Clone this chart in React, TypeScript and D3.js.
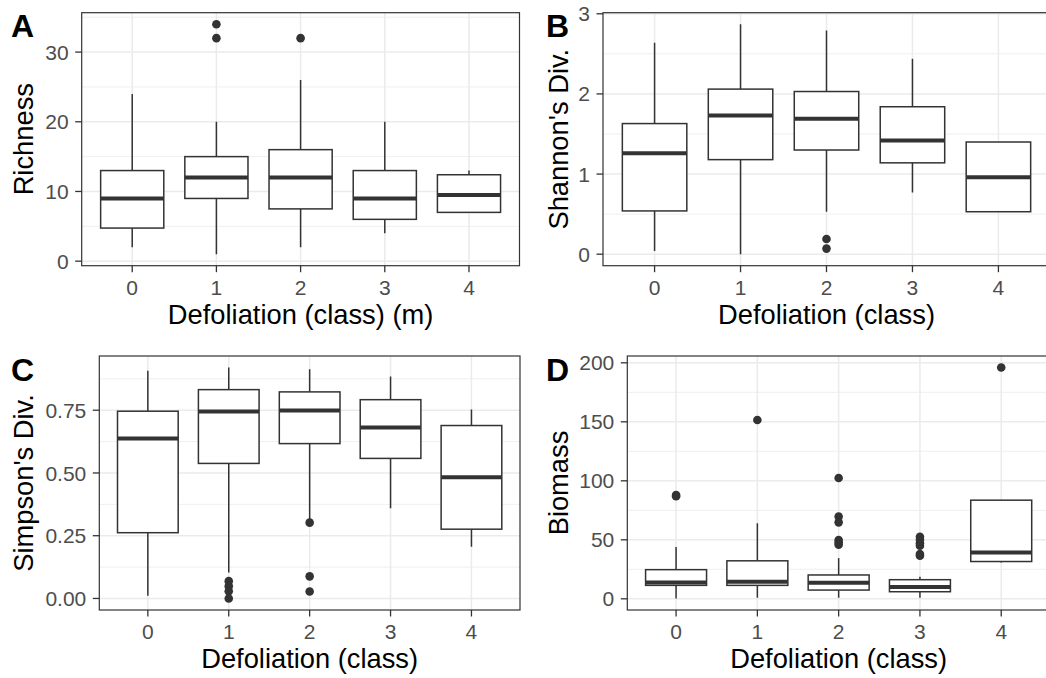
import React from "react";
import * as d3 from "d3";

// ---------- DATA ----------
const categories = ["0", "1", "2", "3", "4"];

// [lower whisker, Q1, median, Q3, upper whisker]
const richnessStats: number[][] = [
  [2, 4.75, 9, 13, 24],
  [1, 9, 12, 15, 20],
  [2, 7.5, 12, 16, 26],
  [4, 6, 9, 13, 20],
  [7, 7, 9.5, 12.4, 13],
];
const richnessOutliers: number[][] = [[], [34, 32], [32], [], []];
const richnessTicks = [0, 10, 20, 30];
const richnessTickLabels = ["0", "10", "20", "30"];

const shannonStats: number[][] = [
  [0.04, 0.54, 1.26, 1.63, 2.64],
  [0.0, 1.18, 1.73, 2.06, 2.87],
  [0.53, 1.3, 1.69, 2.03, 2.79],
  [0.77, 1.14, 1.42, 1.84, 2.44],
  [0.53, 0.53, 0.96, 1.4, 1.4],
];
const shannonOutliers: number[][] = [[], [], [0.19, 0.07], [], []];
const shannonTicks = [0, 1, 2, 3];
const shannonTickLabels = ["0", "1", "2", "3"];

const simpsonStats: number[][] = [
  [0.011, 0.262, 0.637, 0.746, 0.907],
  [0.103, 0.538, 0.745, 0.832, 0.92],
  [0.312, 0.617, 0.749, 0.823, 0.913],
  [0.359, 0.558, 0.681, 0.792, 0.884],
  [0.206, 0.276, 0.483, 0.689, 0.753],
];
const simpsonOutliers: number[][] = [
  [],
  [0.069, 0.049, 0.029, 0.0],
  [0.302, 0.088, 0.028],
  [],
  [],
];
const simpsonTicks = [0, 0.25, 0.5, 0.75];
const simpsonTickLabels = ["0.00", "0.25", "0.50", "0.75"];

const biomassStats: number[][] = [
  [0.3, 11.4, 13.8, 24.7, 44],
  [0.9, 11.4, 14.4, 32.2, 64],
  [0.9, 7.4, 13.7, 20.2, 34.5],
  [0.9, 6, 10, 16.2, 18.8],
  [30.7, 31.6, 39.3, 83.6, 83.6],
];
const biomassOutliers: number[][] = [
  [88, 87],
  [151.6],
  [102.4, 69.7, 64.8, 49.8, 47.8, 45.8],
  [52.6, 50, 47, 45, 37.9, 36.5],
  [196],
];
const biomassTicks = [0, 50, 100, 150, 200];
const biomassTickLabels = ["0", "50", "100", "150", "200"];

const xTitles = [
  "Defoliation (class) (m)",
  "Defoliation (class)",
  "Defoliation (class)",
  "Defoliation (class)",
];
const yTitles = ["Richness", "Shannon's Div.", "Simpson's Div.", "Biomass"];
const tags = ["A", "B", "C", "D"];

// ---------- LAYOUT ----------
const FONT = "'Liberation Sans', Arial, Helvetica, sans-serif";
const DARK = "#333333";
const GRID = "#ebebeb";

type PanelLayout = {
  x0: number;
  x1: number;
  y0: number;
  y1: number;
  tagX: number;
  tagY: number;
  yTitleX: number;
};

const layouts: PanelLayout[] = [
  { x0: 81.7, x1: 519.5, y0: 12.7, y1: 265.7, tagX: 11, tagY: 36.5, yTitleX: 32.5 },
  { x0: 603, x1: 1050, y0: 12.7, y1: 265.7, tagX: 546, tagY: 36.5, yTitleX: 567.5 },
  { x0: 99.3, x1: 520, y0: 356, y1: 610, tagX: 11, tagY: 380.5, yTitleX: 32.5 },
  { x0: 627.3, x1: 1050, y0: 356, y1: 610, tagX: 546, tagY: 380.5, yTitleX: 567.5 },
];

type PanelProps = {
  layout: PanelLayout;
  stats: number[][];
  outliers: number[][];
  ticks: number[];
  tickLabels: string[];
  xTitle: string;
  yTitle: string;
  tag: string;
  clipId: string;
};

function Panel({ layout, stats, outliers, ticks, tickLabels, xTitle, yTitle, tag, clipId }: PanelProps) {
  const { x0, x1, y0, y1 } = layout;
  const all = [...stats.flat(), ...outliers.flat()];
  const lo = d3.min(all) as number;
  const hi = d3.max(all) as number;
  const pad = (hi - lo) * 0.05;
  const y = d3.scaleLinear().domain([lo - pad, hi + pad]).range([y1, y0]);
  const x = d3
    .scaleBand<string>()
    .domain(categories)
    .range([x0, x1])
    .paddingInner(0)
    .paddingOuter(0.1);
  const step = x.step();
  const cx = (c: string) => (x(c) as number) + x.bandwidth() / 2;
  const boxW = step * 0.75;

  const tickStep = ticks[1] - ticks[0];
  const minor: number[] = [];
  for (let i = -1; i < ticks.length; i++) {
    const v = ticks[0] + tickStep * (i + 0.5);
    if (v > y.domain()[0] && v < y.domain()[1]) minor.push(v);
  }

  const midX = (x0 + x1) / 2;
  const midY = (y0 + y1) / 2;

  return (
    <g>
      <defs>
        <clipPath id={clipId}>
          <rect x={x0} y={y0} width={x1 - x0} height={y1 - y0} />
        </clipPath>
      </defs>
      <rect x={x0} y={y0} width={x1 - x0} height={y1 - y0} fill="white" />
      <g clipPath={`url(#${clipId})`}>
        {minor.map((v) => (
          <line key={"mn" + v} x1={x0} x2={x1} y1={y(v)} y2={y(v)} stroke={GRID} strokeWidth={0.8} />
        ))}
        {ticks.map((v) => (
          <line key={"mj" + v} x1={x0} x2={x1} y1={y(v)} y2={y(v)} stroke={GRID} strokeWidth={1.5} />
        ))}
        {categories.map((c) => (
          <line key={"vx" + c} x1={cx(c)} x2={cx(c)} y1={y0} y2={y1} stroke={GRID} strokeWidth={1.5} />
        ))}
        {categories.map((c, i) => {
          const [wl, q1, med, q3, wh] = stats[i];
          const xc = cx(c);
          return (
            <g key={"b" + c}>
              <line x1={xc} x2={xc} y1={y(wh)} y2={y(q3)} stroke={DARK} strokeWidth={1.5} />
              <line x1={xc} x2={xc} y1={y(q1)} y2={y(wl)} stroke={DARK} strokeWidth={1.5} />
              <rect
                x={xc - boxW / 2}
                y={y(q3)}
                width={boxW}
                height={y(q1) - y(q3)}
                fill="white"
                stroke={DARK}
                strokeWidth={1.5}
              />
              <line x1={xc - boxW / 2} x2={xc + boxW / 2} y1={y(med)} y2={y(med)} stroke={DARK} strokeWidth={4} />
              {outliers[i].map((v, k) => (
                <circle key={k} cx={xc} cy={y(v)} r={4.3} fill={DARK} />
              ))}
            </g>
          );
        })}
      </g>
      <rect x={x0} y={y0} width={x1 - x0} height={y1 - y0} fill="none" stroke={DARK} strokeWidth={1.2} />
      {ticks.map((v, i) => (
        <g key={"yt" + v}>
          <line x1={x0 - 6.5} x2={x0} y1={y(v)} y2={y(v)} stroke={DARK} strokeWidth={1.3} />
          <text
            x={x0 - 13}
            y={y(v)}
            dy="0.36em"
            textAnchor="end"
            fontFamily={FONT}
            fontSize={21}
            fill="#4d4d4d"
          >
            {tickLabels[i]}
          </text>
        </g>
      ))}
      {categories.map((c) => (
        <g key={"xt" + c}>
          <line x1={cx(c)} x2={cx(c)} y1={y1} y2={y1 + 6.5} stroke={DARK} strokeWidth={1.3} />
          <text x={cx(c)} y={y1 + 29} textAnchor="middle" fontFamily={FONT} fontSize={21} fill="#4d4d4d">
            {c}
          </text>
        </g>
      ))}
      <text x={midX} y={y1 + 58} textAnchor="middle" fontFamily={FONT} fontSize={27.3} fill="black">
        {xTitle}
      </text>
      <text
        transform={`translate(${layout.yTitleX},${midY}) rotate(-90)`}
        textAnchor="middle"
        fontFamily={FONT}
        fontSize={27.3}
        fill="black"
      >
        {yTitle}
      </text>
      <text x={layout.tagX} y={layout.tagY} fontFamily={FONT} fontSize={32} fontWeight="bold" fill="black">
        {tag}
      </text>
    </g>
  );
}

export default function App() {
  const statsList = [richnessStats, shannonStats, simpsonStats, biomassStats];
  const outList = [richnessOutliers, shannonOutliers, simpsonOutliers, biomassOutliers];
  const tickList = [richnessTicks, shannonTicks, simpsonTicks, biomassTicks];
  const tickLabelList = [richnessTickLabels, shannonTickLabels, simpsonTickLabels, biomassTickLabels];
  return (
    <div style={{ position: "absolute", left: 0, top: 0 }}>
      <svg width={1046} height={678} style={{ display: "block", background: "white" }}>
        <rect x={0} y={0} width={1046} height={678} fill="white" />
        {layouts.map((l, i) => (
          <Panel
            key={i}
            layout={l}
            stats={statsList[i]}
            outliers={outList[i]}
            ticks={tickList[i]}
            tickLabels={tickLabelList[i]}
            xTitle={xTitles[i]}
            yTitle={yTitles[i]}
            tag={tags[i]}
            clipId={"clip" + i}
          />
        ))}
      </svg>
    </div>
  );
}
